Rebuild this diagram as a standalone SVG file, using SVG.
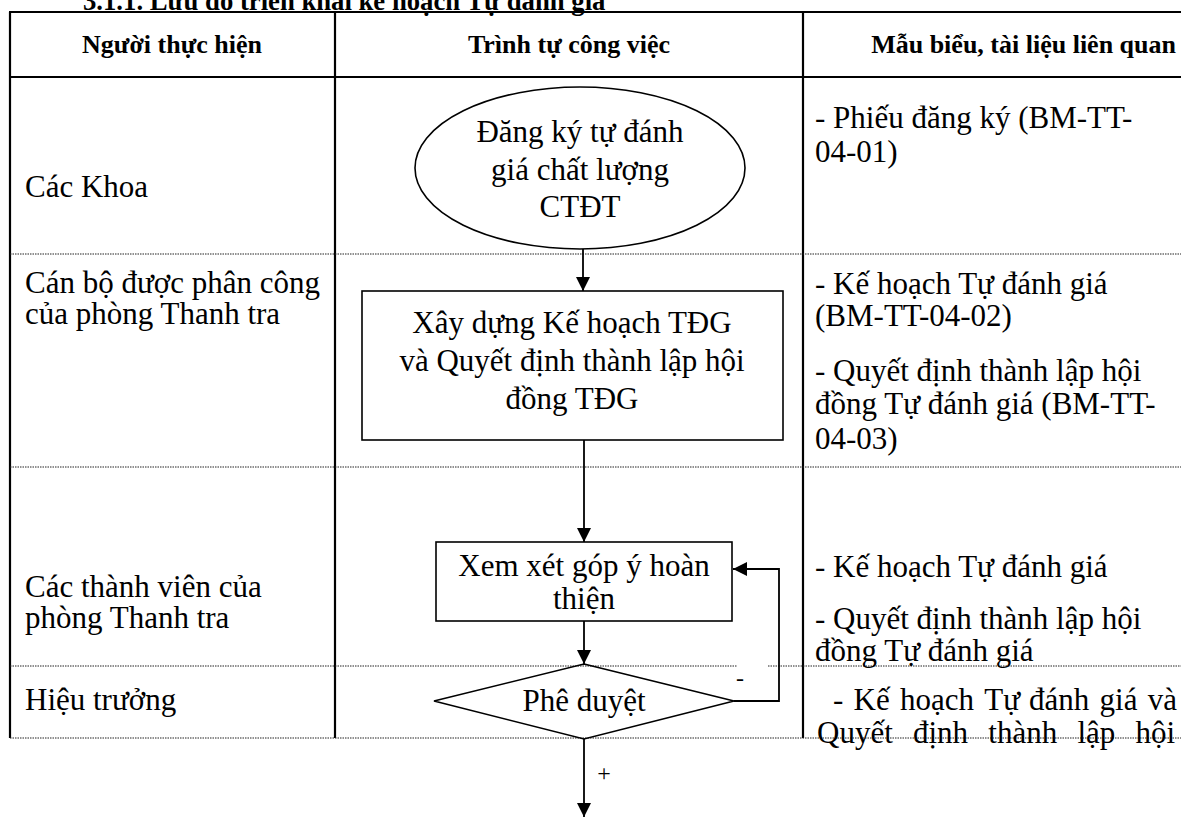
<svg xmlns="http://www.w3.org/2000/svg" width="1181" height="818" viewBox="0 0 1181 818">
<style>
.t{font-family:"Liberation Serif","Times New Roman",serif;font-size:31px;fill:#000}
.h{font-family:"Liberation Serif","Times New Roman",serif;font-size:26px;font-weight:bold;fill:#000}
.c{text-anchor:middle}
.grid{stroke:#000;stroke-width:2.2;fill:none}
.dot{stroke:#222;stroke-width:1;stroke-dasharray:1.5 1;fill:none}
.shape{stroke:#000;stroke-width:1.6;fill:#fff}
.conn{stroke:#000;stroke-width:1.8;fill:none}
.lbl{font-family:"Liberation Serif","Times New Roman",serif;font-size:24px;fill:#000;text-anchor:middle}
</style>
<defs>
<marker id="ah" markerUnits="userSpaceOnUse" markerWidth="14" markerHeight="14" viewBox="0 0 14 14" refX="14" refY="7" orient="auto">
<path d="M0,0 L14,7 L0,14 Z" fill="#000"/>
</marker>
</defs>
<rect width="1181" height="818" fill="#fff"/>
<text x="83" y="10" font-family="Liberation Serif, serif" font-size="26.7" font-weight="bold">3.1.1. Lưu đồ triển khai kế hoạch Tự đánh giá</text>

<g id="table">
<line class="grid" x1="9" y1="12" x2="1181" y2="12"/>
<line class="grid" x1="9" y1="77" x2="1181" y2="77"/>
<line class="grid" x1="10" y1="12" x2="10" y2="738"/>
<line class="grid" x1="335" y1="12" x2="335" y2="738"/>
<line class="grid" x1="803" y1="12" x2="803" y2="738"/>
<line class="dot" x1="10" y1="254" x2="1181" y2="254"/>
<line class="dot" x1="10" y1="467" x2="1181" y2="467"/>
<line class="dot" x1="10" y1="666" x2="737" y2="666"/>
<line class="dot" x1="768" y1="666" x2="1181" y2="666"/>
<line class="dot" x1="10" y1="738" x2="1181" y2="738"/>
<text class="h c" x="172" y="53">Người thực hiện</text>
<text class="h c" x="569" y="53">Trình tự công việc</text>
<text class="h" x="1176" y="53" text-anchor="end">Mẫu biểu, tài liệu liên quan</text>
</g>

<g id="lanes">
<text class="t" x="25" y="197">Các Khoa</text>
<text class="t" x="25" y="293">Cán bộ được phân công</text>
<text class="t" x="25" y="324">của phòng Thanh tra</text>
<text class="t" x="25" y="597">Các thành viên của</text>
<text class="t" x="25" y="628">phòng Thanh tra</text>
<text class="t" x="25" y="710">Hiệu trưởng</text>
</g>

<g id="docs">
<text class="t" x="815" y="128">- Phiếu đăng ký (BM-TT-</text>
<text class="t" x="815" y="162">04-01)</text>
<text class="t" x="815" y="294">- Kế hoạch Tự đánh giá</text>
<text class="t" x="815" y="326">(BM-TT-04-02)</text>
<text class="t" x="815" y="381">- Quyết định thành lập hội</text>
<text class="t" x="815" y="414">đồng Tự đánh giá (BM-TT-</text>
<text class="t" x="815" y="449">04-03)</text>
<text class="t" x="815" y="577">- Kế hoạch Tự đánh giá</text>
<text class="t" x="815" y="629">- Quyết định thành lập hội</text>
<text class="t" x="815" y="661">đồng Tự đánh giá</text>
<text class="t" y="710"><tspan x="833">-</tspan><tspan x="853.6">Kế</tspan><tspan x="900">hoạch</tspan><tspan x="984.3">Tự</tspan><tspan x="1029">đánh</tspan><tspan x="1099.6">giá</tspan><tspan x="1147.8">và</tspan></text>
<text class="t" y="743"><tspan x="817">Quyết</tspan><tspan x="913">định</tspan><tspan x="988.3">thành</tspan><tspan x="1077.4">lập</tspan><tspan x="1135.5">hội</tspan></text>
</g>

<g id="connectors">
<path class="conn" d="M583,249 L583,291" marker-end="url(#ah)"/>
<path class="conn" d="M584,440 L584,542" marker-end="url(#ah)"/>
<path class="conn" d="M584,621 L584,664" marker-end="url(#ah)"/>
<path class="conn" d="M734,701 L779,701 L779,569 L733,569" marker-end="url(#ah)"/>
<path class="conn" d="M584,739 L584,817" marker-end="url(#ah)"/>
<rect x="737" y="668" width="31" height="22" fill="#fff"/>
<text class="lbl" x="740" y="686">-</text>
<text class="lbl" x="604" y="781">+</text>
</g>

<g id="n1">
<ellipse class="shape" cx="580" cy="168" rx="165" ry="81"/>
<text class="t c" x="580" y="142">Đăng ký tự đánh</text>
<text class="t c" x="580" y="180">giá chất lượng</text>
<text class="t c" x="580" y="217">CTĐT</text>
</g>

<g id="n2">
<rect class="shape" x="362" y="291" width="421" height="149"/>
<text class="t c" x="572" y="333">Xây dựng Kế hoạch TĐG</text>
<text class="t c" x="572" y="371">và Quyết định thành lập hội</text>
<text class="t c" x="572" y="409">đồng TĐG</text>
</g>

<g id="n3">
<rect class="shape" x="436" y="542" width="296" height="79"/>
<text class="t c" x="584" y="576">Xem xét góp ý hoàn</text>
<text class="t c" x="584" y="609">thiện</text>
</g>

<g id="n4">
<polygon points="584,664 734,701 584,739 434,701" style="fill:none;stroke:#000;stroke-width:1.6"/>
<text class="t c" x="584" y="711">Phê duyệt</text>
</g>
</svg>
